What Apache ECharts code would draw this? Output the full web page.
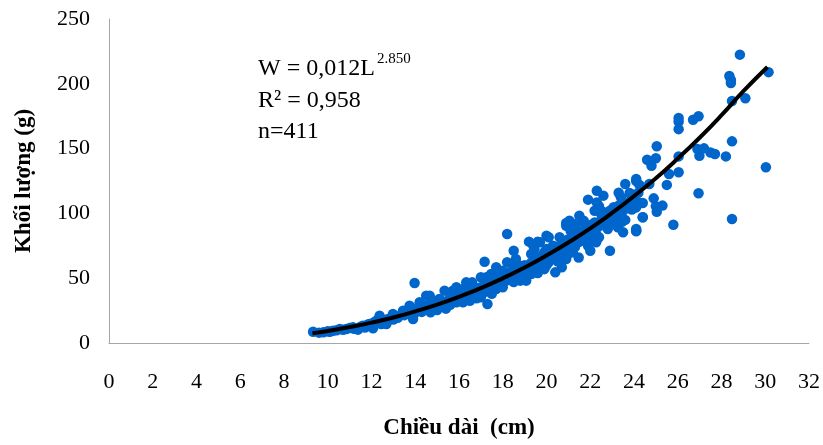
<!DOCTYPE html>
<html>
<head>
<meta charset="utf-8">
<script src="https://cdn.jsdelivr.net/npm/echarts@6/dist/echarts.min.js"></script>
<style>html,body{margin:0;padding:0;background:#fff}#c{width:823px;height:445px}</style>
</head>
<body>
<div id="c"></div>
<script>
// Scatter data (length cm, weight g)
const lengthCm = [
9.33,9.8,10.24,10.55,10.85,11.15,11.38,11.6,11.9,12.07,12.37,12.45,12.75,12.98,13.3,13.44,13.74,13.9,14.2,14.5,14.58,12.22,12.68,13.97,
9.6,10.0,10.1,10.4,10.7,11.0,11.2,11.5,11.7,11.8,12.0,12.1,12.3,12.5,12.6,12.9,13.0,13.1,13.2,13.5,13.6,13.8,13.9,14.0,14.1,
14.2,14.35,14.5,14.66,14.7,14.8,14.96,15.1,15.26,15.34,15.57,15.72,15.88,15.88,16.03,16.18,16.18,16.33,16.5,16.5,16.6,16.7,17.0,17.0,17.17,17.25,17.25,17.3,17.47,17.47,17.6,17.7,17.7,17.85,17.9,18.0,18.16,18.2,18.2,18.3,18.5,18.5,18.6,18.8,18.8,19.07,19.07,19.2,19.3,19.4,19.45,19.6,19.7,19.9,20.0,
14.3,14.4,14.6,14.8,14.9,15.0,15.1,15.2,15.3,15.4,15.5,15.6,15.7,15.8,15.9,16.0,16.1,15.0,15.4,14.7,
16.2,16.3,16.4,16.6,16.7,16.8,16.9,17.0,17.1,17.2,17.3,17.4,17.5,17.6,17.7,17.8,17.9,18.0,18.1,18.0,17.5,16.8,16.2,
18.2,18.3,18.4,18.5,18.6,18.7,18.8,18.9,19.0,19.1,19.2,19.3,19.4,19.5,19.6,19.7,19.8,19.9,20.0,18.5,19.0,19.6,20.0,
20.1,20.2,20.3,20.5,20.6,20.7,20.8,20.9,21.0,21.1,21.2,21.3,21.4,21.5,21.6,21.7,21.8,21.9,22.0,22.1,20.5,21.0,
22.2,22.4,22.5,22.6,22.7,22.8,23.0,23.1,23.3,23.5,23.6,23.8,23.9,24.0,24.2,22.8,23.6,
24.1,23.6,23.3,23.4,23.8,23.9,24.2,24.1,24.4,24.1,22.3,22.6,21.9,22.3,22.4,22.2,22.5,22.9,23.0,23.2,23.3,23.5,23.1,23.26,23.5,23.3,21.5,21.7,21.8,21.35,21.05,20.9,21.1,21.35,21.66,21.96,22.27,22.4,21.9,22.27,22.0,22.9,21.47,20.7,20.6,20.1,20.3,20.0,19.7,19.4,19.45,19.8,20.1,20.4,20.7,21.05,21.2,20.9,19.5,19.9,20.4,19.3,21.8,
23.07,23.2,23.45,24.1,25.0,20.9,
28.84,28.36,28.43,28.43,30.15,28.48,29.09,26.04,26.04,26.04,26.7,26.95,28.48,30.03,28.2,26.9,27.2,27.5,27.7,26.99,26.04,26.04,26.95,28.48,25.04,24.6,24.8,25.0,25.6,25.5,24.1,24.25,24.7,23.85,24.9,24.4,24.06,25.3,25.04,24.4,25.8,24.1
];
const weightG = [
8.7,8.2,9.5,10.8,10.8,12.1,10.3,13.3,14.7,11.3,21.1,14.7,18.5,22.4,21.1,24.9,28.8,18.5,29.3,36.5,26.2,17.2,14.7,46.3,
8.0,9.0,8.6,9.8,10.2,11.5,11.0,12.5,12.0,14.0,13.5,15.8,16.0,17.5,16.5,19.0,18.2,20.5,19.5,21.5,23.0,22.0,25.0,23.5,26.5,
31.4,26.2,28.8,36.5,23.7,32.6,27.5,34,30.1,40.4,34,40.4,43,31.4,37.8,41.7,31.4,46.8,40.4,32.6,46.8,37.8,35.3,50.7,62.7,50.7,44.2,30.1,53.2,40.4,48.1,58.4,41.7,51.9,44.2,55.8,48.1,62.3,84.1,54.5,50.7,71.2,64.8,59.6,48.1,57.1,48.1,78.2,68.7,62.3,72.5,78.2,64.8,70,82.8,
24.0,27.5,28.0,27.0,30.0,29.0,31.0,28.0,32.0,30.5,31.5,29.5,33.5,35.0,33.0,34.5,36.5,25.5,26.5,25.0,
35.0,38.5,36.0,37.0,40.5,39.0,42.5,41.0,44.0,39.5,43.0,45.5,42.5,44.5,47.0,45.5,48.5,47.0,50.5,43.0,38.0,34.5,32.0,
51.5,49.0,53.5,47.0,55.0,52.0,56.5,53.5,60.0,55.5,58.5,62.0,57.0,64.5,60.0,62.5,66.0,63.0,68.5,58.0,51.0,54.0,60.0,
70.0,66.0,71.5,69.0,75.0,66.5,78.0,73.0,80.0,76.5,79.0,74.0,83.0,78.0,86.0,80.0,88.0,85.0,91.0,87.5,63.0,69.0,
93.0,90.0,95.0,101.0,94.0,97.0,103.0,96.5,101.0,107.0,104.0,109.0,103.0,112.0,116.0,88.0,95.0,
125,122.7,116,112.4,115.7,114,108.5,104.7,97,86.7,117.5,113.7,110.6,108.5,105.5,102,99.5,102,99.5,98.2,106,102,91.8,89.3,85.4,93,98.2,94.4,90.5,91.8,94.4,90.5,86.7,85.4,82.8,80.2,84.1,81.6,75,77.7,71.2,71.2,66,58.4,81.6,81.6,75,72.5,77.7,75,67.4,67.4,62.3,67.4,72.5,75,70,64.8,61,57,54.5,53.2,84,
104.7,92.6,93.6,88,105.5,92.6,
222.5,206,203,200.6,209,186.7,188.8,173.6,170.8,165,172.3,175,155.6,135.6,144,149.7,150.2,147,145.8,144.5,144,131.7,115.5,95.7,151.8,141.4,136.8,142.5,130.4,122,126.5,122,122.7,115,111.6,108,104.7,106,101.3,97,91.3,86.2
];
// Trend curve points
const trendL = [9.3,10,11,12,13,14,15,16,17,18,19,20,21,22,23,24,25,26,27,28,29,30.1];
const trendW = [7.6,9.3,12.3,15.7,19.7,24.4,29.6,35.6,42.3,49.9,58.2,67.5,77.5,88.4,100.4,113.3,127.1,142.3,158.4,175.8,194.3,213];
const xTicks = {min:0, max:32, interval:2};
const yTicks = {min:0, max:250, interval:50};

const pts = lengthCm.map((l,i)=>[l, weightG[i]]);
const trend = trendL.map((l,i)=>[l, trendW[i]]);
const serif = 'Liberation Serif, Times New Roman, serif';

const chart = echarts.init(document.getElementById('c'), null, {renderer:'canvas'});
chart.setOption({
  animation:false,
  backgroundColor:'#fff',
  grid:{left:109, right:13, top:19, bottom:101, containLabel:false},
  xAxis:{
    type:'value', min:xTicks.min, max:xTicks.max, interval:xTicks.interval,
    axisLine:{show:true, lineStyle:{color:'#A6A6A6', width:1}},
    axisTick:{show:false}, splitLine:{show:false},
    axisLabel:{color:'#000', fontFamily:serif, fontSize:22, margin:28},
    name:'Chiều dài  (cm)', nameLocation:'middle', nameGap:74,
    nameTextStyle:{color:'#000', fontFamily:serif, fontSize:23, fontWeight:'bold'}
  },
  yAxis:{
    type:'value', min:yTicks.min, max:yTicks.max, interval:yTicks.interval,
    axisLine:{show:true, lineStyle:{color:'#A6A6A6', width:1}},
    axisTick:{show:false}, splitLine:{show:false},
    axisLabel:{color:'#000', fontFamily:serif, fontSize:22, margin:19},
    name:'Khối lượng (g)', nameLocation:'middle', nameGap:73, nameRotate:90,
    nameTextStyle:{color:'#000', fontFamily:serif, fontSize:23, fontWeight:'bold'}
  },
  graphic:[
    {type:'text', left:258, top:57, style:{text:'W = 0,012L', font:'24px '+serif, fill:'#000'}},
    {type:'text', left:377, top:52, style:{text:'2.850', font:'15px '+serif, fill:'#000'}},
    {type:'text', left:258, top:89, style:{text:'R² = 0,958', font:'24px '+serif, fill:'#000'}},
    {type:'text', left:258, top:120, style:{text:'n=411', font:'24px '+serif, fill:'#000'}}
  ],
  series:[
    {type:'scatter', data:pts, symbol:'circle', symbolSize:10.5, itemStyle:{color:'#0066CC', opacity:1}, z:2, silent:true},
    {type:'line', data:trend, smooth:true, showSymbol:false, lineStyle:{color:'#000', width:4}, z:3, silent:true}
  ]
});
</script>
</body>
</html>
